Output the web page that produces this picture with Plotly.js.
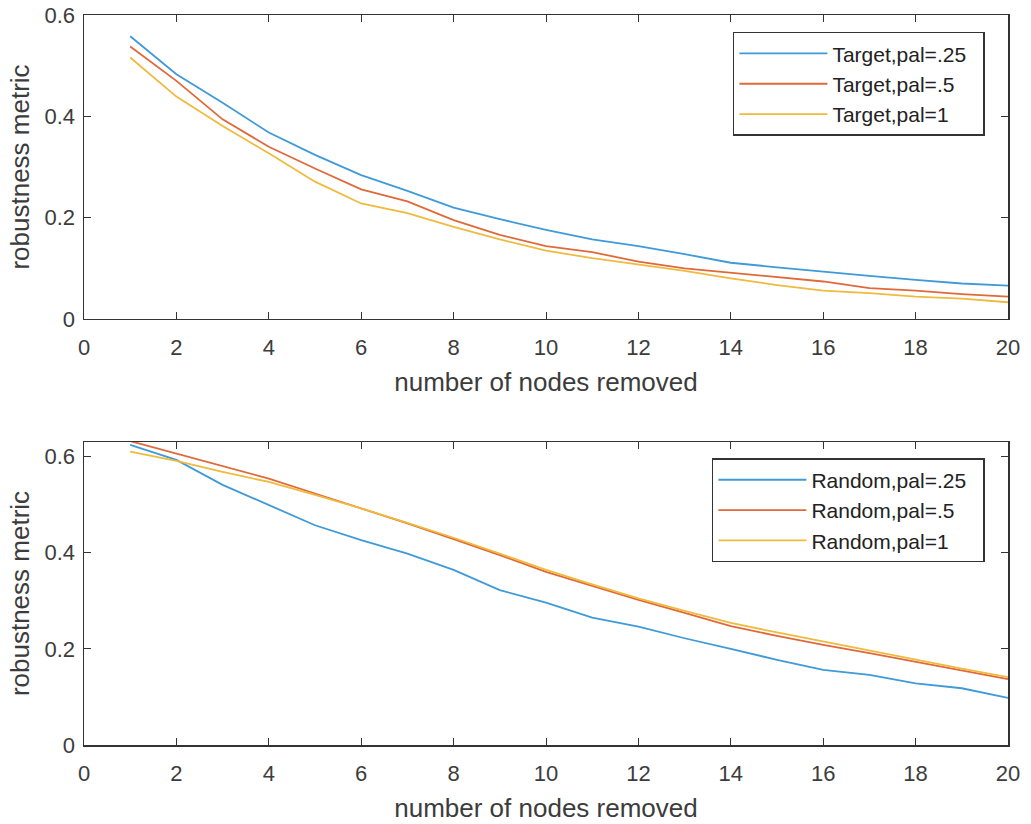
<!DOCTYPE html>
<html>
<head>
<meta charset="utf-8">
<script src="https://cdn.plot.ly/plotly-3.0.1.min.js"></script>
<style>html,body{margin:0;padding:0;background:#fff;}#chart{width:1031px;height:824px;}</style>
</head>
<body>
<div id="chart"></div>
<script>
const nodesRemoved = [1,2,3,4,5,6,7,8,9,10,11,12,13,14,15,16,17,18,19,20];

const targetPal025 = [0.558,0.483,0.427,0.368,0.324,0.284,0.253,0.220,0.197,0.176,0.157,0.144,0.128,0.111,0.102,0.093,0.085,0.077,0.070,0.066];
const targetPal05  = [0.538,0.470,0.394,0.340,0.297,0.256,0.232,0.195,0.166,0.144,0.132,0.113,0.100,0.091,0.082,0.074,0.061,0.056,0.049,0.044];
const targetPal1   = [0.516,0.439,0.381,0.327,0.271,0.228,0.209,0.182,0.157,0.135,0.120,0.107,0.095,0.080,0.067,0.056,0.051,0.044,0.040,0.033];

const randomPal025 = [0.624,0.593,0.541,0.499,0.457,0.426,0.398,0.364,0.322,0.296,0.265,0.246,0.222,0.200,0.177,0.156,0.146,0.128,0.118,0.098];
const randomPal05  = [0.632,0.606,0.580,0.554,0.523,0.492,0.461,0.428,0.395,0.360,0.331,0.302,0.275,0.247,0.227,0.208,0.191,0.173,0.155,0.137];
const randomPal1   = [0.610,0.591,0.568,0.547,0.520,0.492,0.462,0.431,0.398,0.364,0.334,0.305,0.279,0.254,0.234,0.215,0.196,0.177,0.159,0.141];

const targetNames = ['Target,pal=.25','Target,pal=.5','Target,pal=1'];
const randomNames = ['Random,pal=.25','Random,pal=.5','Random,pal=1'];
const xTickVals = [0,2,4,6,8,10,12,14,16,18,20];
const topYTicks = [0,0.2,0.4,0.6];
const bottomYTicks = [0,0.2,0.4,0.6];

const colors = ['#3f9ad8','#e0693a','#efba3e'];
const FONT = 'Liberation Sans, Arial, sans-serif';
const TXT = '#3c3c3c';
const PAD = '\u00a0\u00a0';

const traces = [];
[targetPal025,targetPal05,targetPal1].forEach((ys,i)=>{
  traces.push({x:nodesRemoved,y:ys,type:'scatter',mode:'lines',name:targetNames[i]+PAD,
    line:{color:colors[i],width:1.8},xaxis:'x',yaxis:'y',legend:'legend'});
});
[randomPal025,randomPal05,randomPal1].forEach((ys,i)=>{
  traces.push({x:nodesRemoved,y:ys,type:'scatter',mode:'lines',name:randomNames[i]+PAD,
    line:{color:colors[i],width:1.8},xaxis:'x2',yaxis:'y2',legend:'legend2'});
});

function xax(anchor){
  return {anchor:anchor,domain:[0,1],range:[0,20],tickvals:xTickVals,ticks:'inside',ticklen:7,
    tickcolor:'#333',showline:true,linecolor:'#333',linewidth:1.5,mirror:'ticks',showgrid:false,zeroline:false,
    tickfont:{family:FONT,size:22,color:TXT},ticklabelstandoff:8,
    title:{text:'number of nodes removed',font:{family:FONT,size:26,color:TXT},standoff:14}};
}
function yax(anchor,domain,range,tv){
  return {anchor:anchor,domain:domain,range:range,tickvals:tv,ticktext:tv.map(v=>String(v)),
    ticks:'inside',ticklen:7,tickcolor:'#333',showline:true,linecolor:'#333',linewidth:1.5,mirror:'ticks',
    showgrid:false,zeroline:false,tickfont:{family:FONT,size:22,color:TXT},ticklabelstandoff:3,
    title:{text:'robustness metric',font:{family:FONT,size:26,color:TXT},standoff:7}};
}

const legendStyle = (y)=>({x:0.975,y:y,xanchor:'right',yanchor:'top',bgcolor:'#fff',bordercolor:'#333',borderwidth:1.5,
  font:{family:FONT,size:21,color:'#222'},tracegroupgap:0,itemwidth:88});

const layout = {
  width:1031,height:824,
  margin:{l:84,r:23,t:15,b:79},
  paper_bgcolor:'#fff',plot_bgcolor:'#fff',
  showlegend:true,
  xaxis:xax('y'),
  yaxis:yax('x',[0.5836,1],[0,0.6],topYTicks),
  xaxis2:xax('y2'),
  yaxis2:yax('x2',[0,0.415],[0,0.63],bottomYTicks),
  legend:legendStyle(0.977),
  legend2:legendStyle(0.393)
};

Plotly.newPlot('chart',traces,layout,{displayModeBar:false,staticPlot:true});
</script>
</body>
</html>
